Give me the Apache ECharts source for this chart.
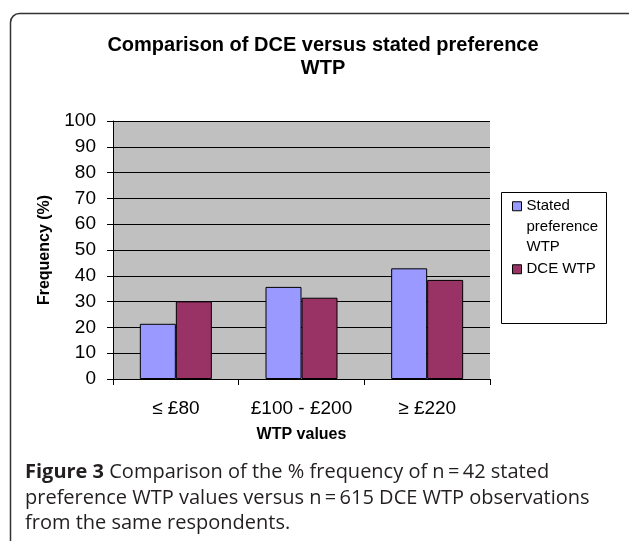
<!DOCTYPE html>
<html>
<head>
<meta charset="utf-8">
<script src="https://cdn.jsdelivr.net/npm/echarts@6/dist/echarts.min.js"></script>
<style>
html,body{margin:0;padding:0;background:#fff;}
#chart{width:629px;height:541px;}
</style>
</head>
<body>
<div id="chart"></div>
<script>
var categories = ['\u2264 \u00a380', '\u00a3100 - \u00a3200', '\u2265 \u00a3220'];
var statedWTP = [21.4, 35.7, 42.9];
var dceWTP = [30.1, 31.5, 38.4];
var yTicks = [0, 10, 20, 30, 40, 50, 60, 70, 80, 90, 100];
var seriesNames = ['Stated preference WTP', 'DCE WTP'];

var FONT = "'Liberation Sans', Arial, sans-serif";
var CAPFONT = "'Open Sans', 'Noto Sans', sans-serif";
var chart = echarts.init(document.getElementById('chart'), null, {renderer: 'canvas'});

var option = {
  animation: false,
  backgroundColor: '#ffffff',
  title: {
    text: 'Comparison of DCE versus stated preference\nWTP',
    left: 318,
    textAlign: 'center',
    top: 29,
    textStyle: {fontFamily: FONT, fontSize: 20, fontWeight: 'bold', color: '#000', lineHeight: 23}
  },
  legend: [
    {
      data: [seriesNames[0]],
      orient: 'vertical', left: 512, top: 155, padding: 0,
      itemWidth: 9, itemHeight: 9,
      icon: 'rect',
      itemStyle: {borderColor: '#000', borderWidth: 1},
      formatter: function () { return '\n\nStated\npreference\nWTP'; },
      textStyle: {fontFamily: FONT, fontSize: 15, color: '#000', lineHeight: 20.5}
    },
    {
      data: [seriesNames[1]],
      orient: 'vertical', left: 512, top: 259, padding: 0,
      itemWidth: 9, itemHeight: 9,
      icon: 'rect',
      itemStyle: {borderColor: '#000', borderWidth: 1},
      textStyle: {fontFamily: FONT, fontSize: 15, color: '#000', lineHeight: 20.5}
    }
  ],
  grid: {
    left: 113, top: 121, width: 377, height: 258,
    show: true, backgroundColor: '#c0c0c0', borderWidth: 0
  },
  xAxis: {
    type: 'category',
    data: categories,
    name: 'WTP values',
    nameLocation: 'middle',
    nameGap: 48,
    nameTextStyle: {fontFamily: FONT, fontSize: 16, fontWeight: 'bold', color: '#000'},
    axisLine: {lineStyle: {color: '#000', width: 1}},
    axisTick: {show: true, length: 6, lineStyle: {color: '#000'}, alignWithLabel: false},
    axisLabel: {fontFamily: FONT, fontSize: 19, color: '#000', margin: 20, interval: 0}
  },
  yAxis: {
    type: 'value',
    min: yTicks[0], max: yTicks[yTicks.length - 1], interval: yTicks[1] - yTicks[0],
    name: 'Frequency (%)',
    nameLocation: 'middle',
    nameRotate: 90,
    nameGap: 60,
    nameTextStyle: {fontFamily: FONT, fontSize: 16, fontWeight: 'bold', color: '#000'},
    axisLine: {show: true, lineStyle: {color: '#000', width: 1}},
    axisTick: {show: true, length: 6, lineStyle: {color: '#000'}},
    axisLabel: {fontFamily: FONT, fontSize: 19, color: '#000', margin: 17},
    splitLine: {show: true, lineStyle: {color: '#000', width: 1}}
  },
  series: [
    {
      name: seriesNames[0], type: 'bar', data: statedWTP,
      barWidth: 36, barGap: 0,
      itemStyle: {color: '#9999ff', borderColor: '#000', borderWidth: 1}
    },
    {
      name: seriesNames[1], type: 'bar', data: dceWTP,
      barWidth: 36, barGap: 0,
      itemStyle: {color: '#993366', borderColor: '#000', borderWidth: 1}
    }
  ],
  graphic: [
    {
      type: 'rect', z: -10, silent: true,
      shape: {x: 10.5, y: 13.5, width: 640, height: 540, r: 9},
      style: {fill: 'none', stroke: '#333', lineWidth: 1.5}
    },
    {
      type: 'rect', z: 0, silent: true,
      shape: {x: 501.5, y: 192.5, width: 105, height: 131},
      style: {fill: '#fff', stroke: '#000', lineWidth: 1}
    },
    {
      type: 'text', silent: true, left: 25, top: 460,
      style: {
        text: '{b|Figure 3} Comparison of the % frequency of n\u2009=\u200942 stated\npreference WTP values versus n\u2009=\u2009615 DCE WTP observations\nfrom the same respondents.',
        fontFamily: CAPFONT, fontWeight: 500,
        fontSize: 20, lineHeight: 25.5, fill: '#231f20',
        rich: {b: {fontWeight: 'bold', fontFamily: CAPFONT, fontSize: 20, fill: '#231f20', lineHeight: 25.5}}
      }
    }
  ]
};
chart.setOption(option);
</script>
</body>
</html>
